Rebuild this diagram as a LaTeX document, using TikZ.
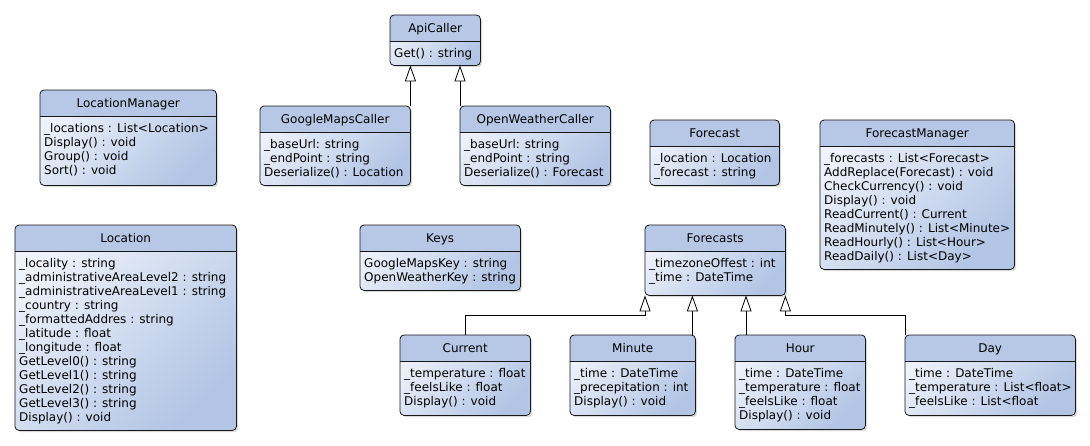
\documentclass[tikz,border=0pt]{standalone}
\usepackage{fontspec}
\setmainfont{DejaVu Sans}
\usetikzlibrary{arrows.meta,calc,shadows}
\definecolor{headcol}{RGB}{182,200,230}
\definecolor{bodyL}{RGB}{238,242,250}
\definecolor{bodyD}{RGB}{178,197,229}
\definecolor{edgecol}{RGB}{24,24,24}
\tikzset{
  classbox/.style={rectangle, rounded corners=4pt, inner sep=0pt, draw=none,
    top color=bodyL, bottom color=bodyD, shading angle=45,
    drop shadow={shadow xshift=2pt, shadow yshift=-2pt, opacity=0.25, fill=black!60}},
  classline/.style={draw=edgecol, line width=0.8pt},
  titletext/.style={font=\fontsize{12}{14}\selectfont, inner sep=0pt, anchor=base},
  bodytext/.style={font=\fontsize{12}{14}\selectfont, inner sep=0pt, anchor=base west},
  gen/.style={draw=black, line width=0.8pt, -{Triangle[length=16pt,width=11pt,fill=white]}}
}
\newcommand\umlclass[8]{%
  \pgfmathsetmacro\clsW{#4-#2}\pgfmathsetmacro\clsH{#5-#3}%
  \node[classbox, minimum width=\clsW pt, minimum height=\clsH pt, anchor=north west] (#1) at (#2,#3) {};
  \begin{scope}
    \clip[rounded corners=4pt] (#1.north west) rectangle (#1.south east);
    \fill[headcol] (#1.north west) rectangle (#4,#6);
  \end{scope}
  \draw[classline, rounded corners=4pt] (#1.north west) rectangle (#1.south east);
  \draw[classline] (#2,#6) -- (#4,#6);
  \node[titletext] (#1t) at ([yshift=-17pt]#1.north) {#7};
  \node[bodytext] (#1b) at (#2+4,#6+16) {\begin{tabular}[t]{@{}l@{}}#8\end{tabular}};
}
\begin{document}
\begin{tikzpicture}[x=1pt,y=-1pt]
\useasboundingbox (0,0) rectangle (1090,445);
\umlclass{api}{390}{15}{480}{65}{41}{ApiCaller}{Get() : string}
\umlclass{lm}{40}{90}{216}{185}{116}{LocationManager}{\_locations : List<Location>\\Display() : void\\Group() : void\\Sort() : void}
\umlclass{gmc}{260}{106}{410}{185}{132}{GoogleMapsCaller}{\_baseUrl: string\\\_endPoint : string\\Deserialize() : Location}
\umlclass{owc}{460}{106}{610}{185}{132}{OpenWeatherCaller}{\_baseUrl: string\\\_endPoint : string\\Deserialize() : Forecast}
\umlclass{fc}{650}{120}{779}{185}{146}{Forecast}{\_location : Location\\\_forecast : string}
\umlclass{fm}{820}{120}{1014}{269}{146}{ForecastManager}{\_forecasts : List<Forecast>\\AddReplace(Forecast) : void\\CheckCurrency() : void\\Display() : void\\ReadCurrent() : Current\\ReadMinutely() : List<Minute>\\ReadHourly() : List<Hour>\\ReadDaily() : List<Day>}
\umlclass{loc}{15}{225}{236}{430}{251}{Location}{\_locality : string\\\_administrativeAreaLevel2 : string\\\_administrativeAreaLevel1 : string\\\_country : string\\\_formattedAddres : string\\\_latitude : float\\\_longitude : float\\GetLevel0() : string\\GetLevel1() : string\\GetLevel2() : string\\GetLevel3() : string\\Display() : void}
\umlclass{keys}{360}{225}{520}{290}{251}{Keys}{GoogleMapsKey : string\\OpenWeatherKey : string}
\umlclass{fcs}{645}{225}{785}{295}{251}{Forecasts}{\_timezoneOffest : int\\\_time : DateTime}
\umlclass{cur}{400}{335}{530}{415}{361}{Current}{\_temperature : float\\\_feelsLike : float\\Display() : void}
\umlclass{min}{570}{335}{695}{415}{361}{Minute}{\_time : DateTime\\\_precepitation : int\\Display() : void}
\umlclass{hour}{735}{335}{865}{429}{361}{Hour}{\_time : DateTime\\\_temperature : float\\\_feelsLike : float\\Display() : void}
\umlclass{day}{905}{335}{1075}{415}{361}{Day}{\_time : DateTime\\\_temperature : List<float>\\\_feelsLike : List<float}
% generalisations
\draw[gen] (gmc.north east) -- (gmc.north east |- api.south);
\draw[gen] (owc.north west) -- (owc.north west |- api.south);
\coordinate (bus) at (0,315);
\draw[gen] (cur.north) |- (bus -| fcs.south west) -- (fcs.south west);
\draw[gen] ([xshift=-3pt]min.north east) -- ([xshift=-3pt]min.north east |- fcs.south);
\draw[gen] ([xshift=11pt]hour.north west) -- ([xshift=11pt]hour.north west |- fcs.south);
\draw[gen] (day.north west) |- (bus -| fcs.south east) -- (fcs.south east);
\end{tikzpicture}
\end{document}
